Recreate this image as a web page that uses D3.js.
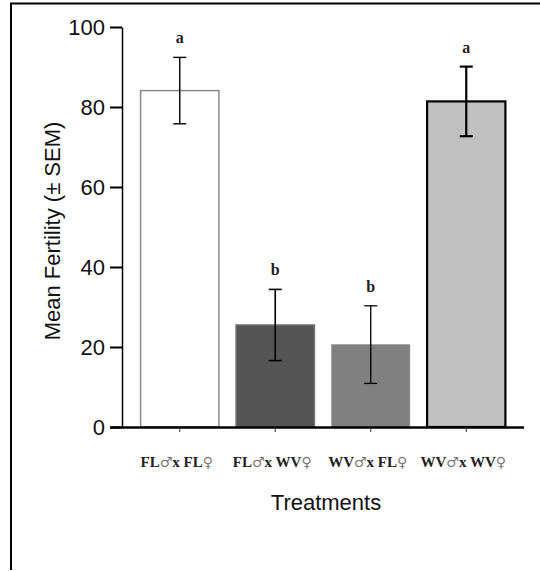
<!DOCTYPE html>
<html>
<head>
<meta charset="utf-8">
<script src="https://cdn.jsdelivr.net/npm/d3@7"></script>
<style>
  body { margin: 0; background: #fff; }
  svg { display: block; }
</style>
</head>
<body>
<div id="chart"></div>
<script>
// Data
var treatments = ["FL♂x FL♀", "FL♂x WV♀", "WV♂x FL♀", "WV♂x WV♀"];
var meanFertility = [84.1, 25.5, 20.6, 81.4];
var sem = [8.3, 8.9, 9.7, 8.7];
var groupLetters = ["a", "b", "b", "a"];
var yTicks = [0, 20, 40, 60, 80, 100];

// bar looks
var barFill   = ["#ffffff", "#555555", "#808080", "#c0c0c0"];
var barStroke = ["#8a8a8a", "#6e6e6e", "#8a8a8a", "#000000"];
var barStrokeW = [1.5, 1.5, 0.5, 2.2];
var errW = [1.4, 1.6, 1.3, 2.2];

var W = 540, H = 571;
var svg = d3.select("#chart").append("svg")
  .attr("width", W)
  .attr("height", H);

svg.append("rect").attr("width", W).attr("height", H).attr("fill", "#fff");

// outer frame (top + left only)
svg.append("path")
  .attr("d", "M11,570 L11,3.5 L540,3.5")
  .attr("fill", "none")
  .attr("stroke", "#000")
  .attr("stroke-width", 2);

var y = d3.scaleLinear().domain([0, 100]).range([427, 27]);
var x = d3.scaleBand().domain(treatments).range([132, 514])
  .paddingInner(0.18).paddingOuter(0.09);

var axisFont = "'Liberation Sans', Arial, sans-serif";

// y axis
var yAxis = svg.append("g")
  .attr("transform", "translate(122,0)")
  .call(d3.axisLeft(y).tickValues(yTicks).tickSize(12).tickPadding(5).tickSizeOuter(0));
yAxis.select(".domain").attr("stroke-width", 1.5);
yAxis.selectAll(".tick line").attr("stroke-width", 2);
yAxis.selectAll("text")
  .attr("font-family", axisFont)
  .attr("font-size", 22)
  .attr("fill", "#111");

// bars
var bars = svg.append("g");
bars.selectAll("rect")
  .data(treatments)
  .enter()
  .append("rect")
    .attr("x", function(d) { return x(d); })
    .attr("y", function(d, i) { return y(meanFertility[i]); })
    .attr("width", x.bandwidth())
    .attr("height", function(d, i) { return y(0) - y(meanFertility[i]); })
    .attr("fill", function(d, i) { return barFill[i]; })
    .attr("stroke", function(d, i) { return barStroke[i]; })
    .attr("stroke-width", function(d, i) { return barStrokeW[i]; });

// x axis
var xAxis = svg.append("g")
  .attr("transform", "translate(0,427)")
  .call(d3.axisBottom(x).tickSize(5).tickSizeOuter(0).tickFormat(""));
xAxis.select(".domain")
  .attr("d", "M110,0.5H524")
  .attr("stroke-width", 2.5);
xAxis.selectAll(".tick line").attr("stroke", "#333").attr("stroke-width", 1);

// error bars
var capHalf = 6.5;
var err = svg.append("g");
treatments.forEach(function(t, i) {
  var cx = x(t) + x.bandwidth() / 2;
  var top = y(meanFertility[i] + sem[i]);
  var bot = y(meanFertility[i] - sem[i]);
  var g = err.append("g")
    .attr("stroke", "#000")
    .attr("stroke-width", errW[i]);
  g.append("line").attr("x1", cx).attr("x2", cx).attr("y1", top).attr("y2", bot);
  g.append("line").attr("x1", cx - capHalf).attr("x2", cx + capHalf).attr("y1", top).attr("y2", top);
  g.append("line").attr("x1", cx - capHalf).attr("x2", cx + capHalf).attr("y1", bot).attr("y2", bot);

  // significance letters
  svg.append("text")
    .attr("x", cx)
    .attr("y", top - 14)
    .attr("text-anchor", "middle")
    .attr("font-family", "'Liberation Serif', 'Times New Roman', serif")
    .attr("font-weight", "bold")
    .attr("font-size", 16)
    .attr("fill", "#222")
    .text(groupLetters[i]);

  // category labels, sex symbols drawn lighter
  var parts = t.split(/([♂♀])/);
  var lab = svg.append("text")
    .attr("x", cx - 3)
    .attr("y", 467)
    .attr("text-anchor", "middle")
    .attr("font-family", "'Liberation Serif', 'Times New Roman', serif")
    .attr("font-size", 15);
  parts.forEach(function(p) {
    if (!p) return;
    var sym = (p === "♂" || p === "♀");
    lab.append("tspan")
      .attr("font-weight", sym ? "normal" : "bold")
      .attr("fill", sym ? "#777" : "#222")
      .attr("font-family", sym ? "'DejaVu Sans', sans-serif" : null)
      .attr("font-size", sym ? 14 : null)
      .text(p);
  });
});

// axis titles
svg.append("text")
  .attr("x", 326)
  .attr("y", 510)
  .attr("text-anchor", "middle")
  .attr("font-family", axisFont)
  .attr("font-size", 22)
  .attr("fill", "#111")
  .text("Treatments");

svg.append("text")
  .attr("transform", "translate(60,231) rotate(-90)")
  .attr("text-anchor", "middle")
  .attr("font-family", axisFont)
  .attr("font-size", 22)
  .attr("fill", "#111")
  .text("Mean Fertility (± SEM)");
</script>
</body>
</html>
